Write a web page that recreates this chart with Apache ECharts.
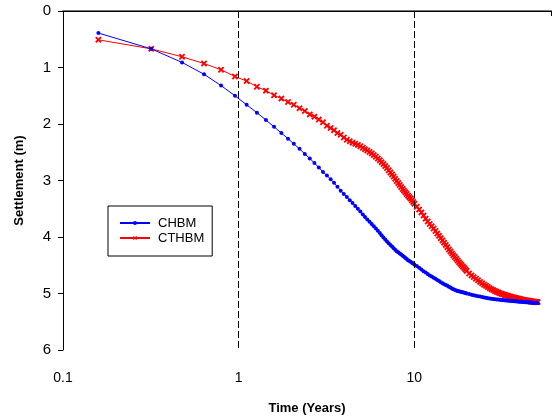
<!DOCTYPE html>
<html>
<head>
<meta charset="utf-8">
<script src="https://cdn.jsdelivr.net/npm/echarts@6/dist/echarts.min.js"></script>
<style>html,body{margin:0;padding:0;background:#fff}#c{width:554px;height:420px}</style>
</head>
<body>
<div id="c"></div>
<script>
var times = [0.159,0.318,0.476,0.635,0.794,0.953,1.11,1.27,1.43,1.59,1.75,1.91,2.06,2.22,2.38,2.54,2.70,2.86,3.02,3.18,3.34,3.49,3.65,3.81,3.97,4.13,
 4.29,4.45,4.61,4.77,4.93,5.09,5.24,5.40,5.56,5.72,5.88,6.04,6.20,6.36,6.51,6.67,6.83,6.99,7.15,7.31,7.47,7.63,7.78,7.94,8.10,8.26,8.42,8.58,8.74,8.90,9.05,9.21,9.37,9.53,9.69,9.85,10.01,
 10.33,10.65,10.97,11.29,11.60,11.92,12.24,12.56,12.88,13.19,13.51,13.83,14.15,14.47,14.78,15.10,15.42,15.74,16.06,16.38,16.69,17.01,17.33,17.65,17.97,18.28,18.60,18.92,19.24,19.56,19.87,
 20.51,21.15,21.78,22.42,23.05,23.69,24.33,24.96,25.60,26.23,26.87,27.51,28.14,28.78,29.41,30.05,30.69,31.32,31.96,32.59,33.23,33.87,34.50,35.14,35.77,36.41,37.05,37.68,38.32,38.95,39.59,40.23,40.86,41.50,42.13,42.77,43.41,44.04,44.68,45.31,45.95,46.59,47.22,47.86,48.49,49.13,49.77,50.40];
var chbm = [0.39,0.67,0.91,1.12,1.32,1.50,1.66,1.80,1.93,2.05,2.16,2.26,2.35,2.44,2.53,2.61,2.69,2.77,2.85,2.91,2.98,3.04,3.11,3.18,3.24,3.29,
 3.35,3.40,3.45,3.50,3.55,3.60,3.645,3.69,3.73,3.77,3.81,3.85,3.89,3.93,3.97,4.01,4.045,4.08,4.11,4.14,4.17,4.20,4.225,4.25,4.27,4.29,4.31,4.33,4.35,4.37,4.39,4.41,4.425,4.44,4.455,4.47,4.485,
 4.515,4.545,4.575,4.605,4.63,4.655,4.68,4.70,4.72,4.74,4.76,4.78,4.80,4.82,4.835,4.85,4.865,4.88,4.895,4.91,4.925,4.935,4.945,4.955,4.962,4.968,4.975,4.98,4.986,4.993,5.00,
 5.01,5.02,5.03,5.04,5.05,5.055,5.063,5.07,5.076,5.082,5.087,5.092,5.096,5.10,5.104,5.107,5.11,5.113,5.116,5.119,5.122,5.124,5.127,5.129,5.132,5.134,5.136,5.138,5.14,5.142,5.144,5.146,5.148,5.15,5.151,5.153,5.155,5.156,5.158,5.159,5.161,5.162,5.164,5.165,5.166,5.167,5.168,5.17];
var cthbm = [0.51,0.67,0.81,0.93,1.04,1.16,1.24,1.34,1.41,1.49,1.55,1.61,1.66,1.72,1.77,1.83,1.87,1.92,1.97,2.03,2.07,2.11,2.16,2.19,2.24,2.28,
 2.305,2.33,2.35,2.37,2.395,2.42,2.445,2.47,2.495,2.52,2.55,2.58,2.61,2.64,2.675,2.71,2.745,2.78,2.82,2.86,2.895,2.93,2.97,3.01,3.045,3.08,3.115,3.15,3.18,3.21,3.24,3.27,3.295,3.32,3.35,3.38,3.41,
 3.465,3.515,3.565,3.62,3.675,3.725,3.77,3.81,3.85,3.895,3.94,3.98,4.02,4.06,4.10,4.14,4.18,4.22,4.255,4.29,4.325,4.355,4.385,4.415,4.445,4.475,4.50,4.525,4.55,4.575,4.60,
 4.645,4.68,4.71,4.74,4.765,4.795,4.82,4.845,4.865,4.885,4.905,4.925,4.94,4.955,4.97,4.983,4.994,5.004,5.013,5.022,5.031,5.04,5.046,5.053,5.06,5.067,5.073,5.079,5.085,5.09,5.095,5.10,5.105,5.11,5.114,5.118,5.122,5.126,5.129,5.133,5.136,5.139,5.142,5.144,5.146,5.148,5.15,5.152];
var xTickLabels = ['0.1','1','10'];
var yTicks = [0,1,2,3,4,5,6];
var guideLines = [1, 10];

function pairs(v){ return times.map(function(t,i){ return [t, v[i]]; }); }
var font = 'Arial, "Liberation Sans", sans-serif';
var xMark = 'path://M0,2L2,0L5,3L8,0L10,2L7,5L10,8L8,10L5,7L2,10L0,8L3,5Z';

var chart = echarts.init(document.getElementById('c'), null, {renderer:'canvas'});
chart.setOption({
  animation: false,
  backgroundColor: '#fff',
  grid: {left: 63, right: 0, top: 11, bottom: 65},
  legend: {
    data: ['CHBM','CTHBM'],
    orient: 'vertical', left: 108, top: 206,
    borderColor: '#000', borderWidth: 1,
    padding: [10, 8, 11, 11],
    itemWidth: 30, itemHeight: 5, itemGap: 1,
    textStyle: {fontFamily: font, fontSize: 13, color: '#000', padding: [0,0,0,3], lineHeight: 14}
  },
  xAxis: [{
    type: 'log', logBase: 10, min: 0.1, max: 60,
    name: 'Time (Years)', nameLocation: 'middle', nameGap: 52,
    nameTextStyle: {fontFamily: font, fontSize: 13, fontWeight: 'bold', color: '#000'},
    axisLine: {show: true, lineStyle: {color: '#777', width: 2}},
    axisTick: {show: true, inside: false, length: 5, lineStyle: {color: '#000'}},
    minorTick: {show: false},
    splitLine: {show: false},
    axisLabel: {
      fontFamily: font, fontSize: 14, color: '#000', margin: 21,
      formatter: function(v){
        var s = String(+v.toPrecision(6));
        return xTickLabels.indexOf(s) >= 0 ? s : '';
      }
    }
  },{
    type: 'log', logBase: 10, min: 0.1, max: 60, position: 'top',
    axisLine: {show: true, lineStyle: {color: '#000', width: 1}},
    axisTick: {show: false}, axisLabel: {show: false}, splitLine: {show: false}
  }],
  yAxis: {
    type: 'value', inverse: true, min: 0, max: 6, interval: 1,
    name: 'Settlement (m)', nameLocation: 'middle', nameGap: 37,
    nameTextStyle: {fontFamily: font, fontSize: 13, fontWeight: 'bold', color: '#000'},
    axisLine: {show: true, lineStyle: {color: '#000', width: 1}},
    axisTick: {show: true, inside: false, length: 5, lineStyle: {color: '#000'}},
    splitLine: {show: false},
    axisLabel: {fontFamily: font, fontSize: 15, color: '#000', margin: 12,
      formatter: function(v){ return yTicks.indexOf(v) >= 0 ? String(v) : ''; }}
  },
  series: [{
    name: 'CTHBM', type: 'line', data: pairs(cthbm),
    symbol: xMark, symbolSize: 6.5, showAllSymbol: true,
    lineStyle: {color: '#ff0000', width: 1},
    itemStyle: {color: '#ff0000', borderWidth: 0},
    markLine: {
      silent: true, symbol: ['none','none'], label: {show: false},
      lineStyle: {color: '#000', type: [7,3], width: 1},
      data: guideLines.map(function(g){ return {xAxis: g}; })
    }
  },{
    name: 'CHBM', type: 'line', data: pairs(chbm),
    symbol: 'circle', symbolSize: 4, showAllSymbol: true,
    lineStyle: {color: '#0000ff', width: 1},
    itemStyle: {color: '#0000ff', borderWidth: 0}
  }]
});
</script>
</body>
</html>
